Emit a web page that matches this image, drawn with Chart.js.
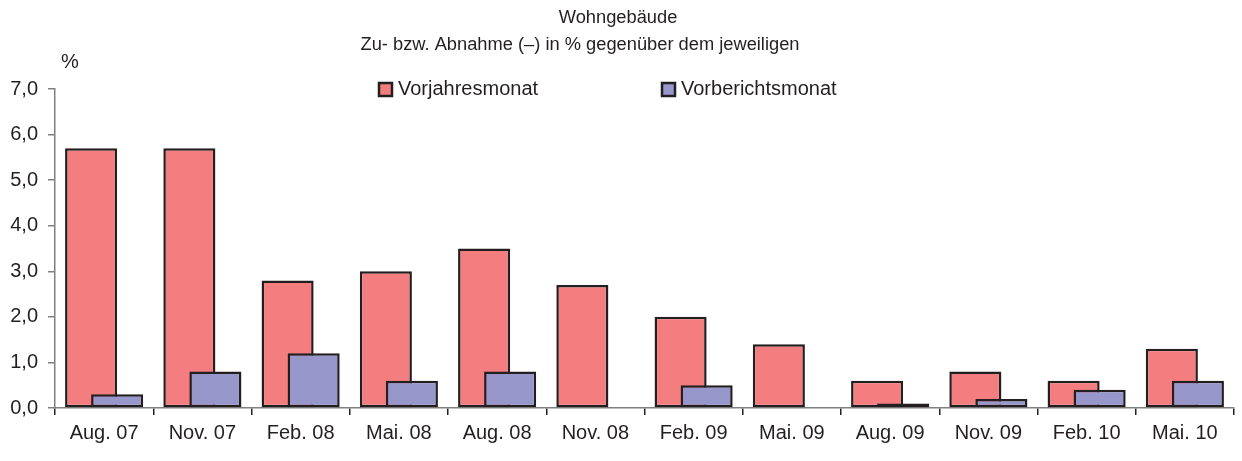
<!DOCTYPE html>
<html>
<head>
<meta charset="utf-8">
<script src="https://cdn.jsdelivr.net/npm/chart.js@4.4.1/dist/chart.umd.min.js"></script>
<style>
  html, body { margin: 0; padding: 0; background: #fff; }
</style>
</head>
<body>
<canvas id="grafik" width="1242" height="461"></canvas>
<script>
// Daten
const kategorien = ['Aug. 07', 'Nov. 07', 'Feb. 08', 'Mai. 08', 'Aug. 08', 'Nov. 08',
                    'Feb. 09', 'Mai. 09', 'Aug. 09', 'Nov. 09', 'Feb. 10', 'Mai. 10'];
const vorjahresmonat = [5.7, 5.7, 2.8, 3.0, 3.5, 2.7, 2.0, 1.4, 0.6, 0.8, 0.6, 1.3];
const vorberichtsmonat = [0.3, 0.8, 1.2, 0.6, 0.8, 0.0, 0.5, 0.0, 0.1, 0.2, 0.4, 0.6];
const yMin = 0;
const yMax = 7;
const yStep = 1;

const titelZeile1 = 'Wohngebäude';
const titelZeile2 = 'Zu- bzw. Abnahme (–) in % gegenüber dem jeweiligen';
const einheit = '%';

const rot = '#f47e7f';
const blau = '#9797cb';
const rand = '#231f20';
const achse = '#808080';
const textFarbe = '#231f20';
const schrift = '"Liberation Sans", Arial, sans-serif';

// Balken überlappen sich (wie in Excel): der rote liegt unten, der blaue oben.
// Chart.js zeichnet Datensatz 0 zuletzt, deshalb den roten vorher selbst zeichnen.
const reihenfolge = {
  id: 'reihenfolge',
  beforeDatasetsDraw(chart) {
    chart.getDatasetMeta(0).controller.draw();
  },
  beforeDatasetDraw(chart, args) {
    if (args.index === 0) return false;
  }
};

// Titel, Einheit und Legende selbst zeichnen
const beschriftung = {
  id: 'beschriftung',
  afterDraw(chart) {
    const ctx = chart.ctx;
    ctx.save();
    ctx.fillStyle = textFarbe;
    ctx.textBaseline = 'middle';
    ctx.font = '18.3px ' + schrift;
    ctx.textAlign = 'center';
    ctx.fillText(titelZeile1, 618, 18);
    ctx.fillText(titelZeile2, 580, 45);

    ctx.font = '20px ' + schrift;
    ctx.fillText(einheit, 70, 62);

    // Legende
    ctx.textAlign = 'left';
    const eintraege = [
      { text: 'Vorjahresmonat', farbe: rot, x: 379 },
      { text: 'Vorberichtsmonat', farbe: blau, x: 662 }
    ];
    eintraege.forEach(e => {
      ctx.fillStyle = e.farbe;
      ctx.fillRect(e.x, 83, 13, 13);
      ctx.strokeStyle = rand;
      ctx.lineWidth = 2.5;
      ctx.strokeRect(e.x, 83, 13, 13);
      ctx.fillStyle = textFarbe;
      ctx.fillText(e.text, e.x + 19, 89.5);
    });
    ctx.restore();
  }
};

const ctx = document.getElementById('grafik').getContext('2d');
new Chart(ctx, {
  type: 'bar',
  data: {
    labels: kategorien,
    datasets: [
      {
        label: 'Vorjahresmonat',
        data: vorjahresmonat,
        backgroundColor: rot
      },
      {
        label: 'Vorberichtsmonat',
        data: vorberichtsmonat,
        backgroundColor: blau
      }
    ]
  },
  options: {
    responsive: false,
    animation: false,
    datasets: {
      bar: {
        borderColor: rand,
        borderWidth: 2.5,
        borderSkipped: false,
        categoryPercentage: 0.53,
        barPercentage: 2
      }
    },
    layout: { padding: { top: 89, right: 8, bottom: 10, left: 0 } },
    scales: {
      x: {
        border: { color: achse, width: 1.5 },
        grid: { offset: true, drawOnChartArea: false, color: rand, tickLength: 7, lineWidth: 1.5 },
        ticks: { color: textFarbe, font: { size: 20, family: schrift }, padding: 6, maxRotation: 0 }
      },
      y: {
        min: yMin,
        max: yMax,
        border: { color: achse, width: 1.5 },
        grid: { drawOnChartArea: false, color: achse, tickLength: 7, lineWidth: 1.5 },
        ticks: {
          stepSize: yStep,
          color: textFarbe,
          font: { size: 20, family: schrift },
          padding: 10,
          callback: v => v.toFixed(1).replace('.', ',')
        },
        afterFit: s => { s.width = 55; }
      }
    },
    plugins: {
      legend: { display: false },
      title: { display: false },
      tooltip: { enabled: false }
    }
  },
  plugins: [reihenfolge, beschriftung]
});
</script>
</body>
</html>
